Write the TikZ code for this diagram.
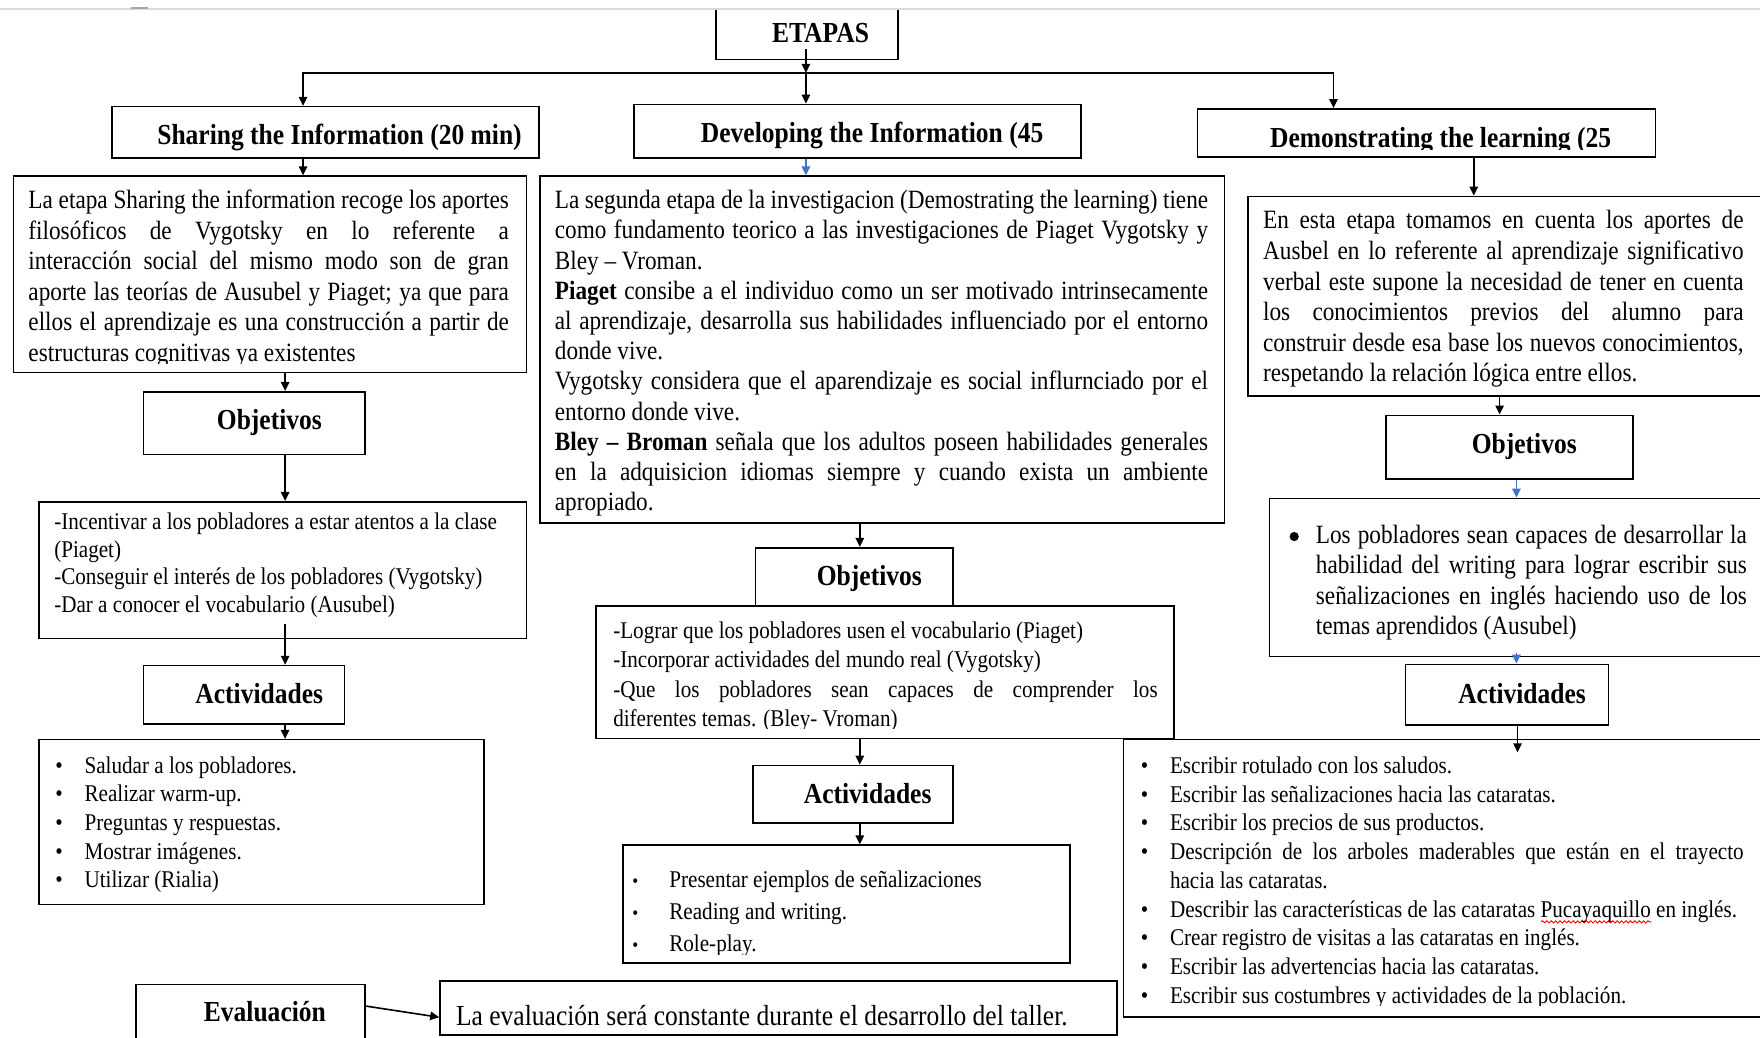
\documentclass[tikz,border=0pt]{standalone}
\usepackage{fontspec}
\setmainfont{Liberation Serif}[FakeStretch=0.88]
\usetikzlibrary{arrows.meta,fit,calc,decorations.pathmorphing}
\definecolor{blueA}{RGB}{68,114,196}
\newcommand\jl[1]{{\spaceskip=0pt\xspaceskip=0pt\makebox[\linewidth][s]{#1}}}
\newcommand\bl{\makebox[14.6pt][l]{\textbullet}}
\newcommand\bld{\makebox[18.5pt][l]{\scalebox{0.8}{\textbullet}}}
\newcommand\bx[5]{\node[box, fit={(#2,#3) (#4,#5)}] (#1) {};}
\newcommand\wavy[1]{\setbox0\hbox{#1}\rlap{\tikz[baseline=0pt,x=1pt,y=1pt]\draw[red,line width=0.45pt,decorate,decoration={snake,amplitude=0.55pt,segment length=2.2pt}] (0pt,-2.4pt) -- (\the\wd0,-2.4pt);}#1}
\begin{document}
\begin{tikzpicture}[x=0.5612pt,y=-0.5612pt,
  box/.style={draw, line width=0.8pt, inner sep=0pt},
  arr/.style={line width=0.8pt, -{Triangle[length=4.5pt,width=4.2pt]}},
  barr/.style={arr, draw=blueA},
  hdr/.style={font=\fontsize{14.5}{16.7}\selectfont\bfseries, inner sep=0pt, anchor=base},
  body/.style={font=\fontsize{13.2}{15.26}\selectfont, inner sep=0pt, anchor=base west, align=justify},
  small/.style={inner sep=0pt, anchor=base west, align=justify}]
\useasboundingbox (0,0) rectangle (1568,924);
\fill[white] (0,0) rectangle (1568,924);
% top edge of page
\begin{scope}
\clip (0,8.6) rectangle (1568,924);
\bx{etapas}{638}{-5}{800}{53}
\end{scope}
\draw[gray!30, line width=0.8pt] (0,8) -- (1568,8);
\draw[gray!70, line width=1.2pt] (117,7) -- (132,7);
% boxes
\bx{shar}{100}{95}{480}{141}
\bx{dev}{565}{93}{963}{141}
\bx{dem}{1067}{97}{1475}{140}
\bx{s1}{12}{157}{469}{332}
\bx{objS}{128}{349}{325}{405}
\bx{s2}{35}{447}{469}{569}
\bx{actS}{128}{593}{307}{645}
\bx{s3}{35}{659}{431}{806}
\bx{d1}{481}{157}{1091}{466}
\bx{objD}{673}{488}{849}{540}
\bx{d2}{531}{540}{1046}{658}
\bx{actD}{671}{682}{849}{733}
\bx{d3}{555}{753}{953}{858}
\bx{r1}{1112}{175}{1580}{353}
\bx{objR}{1235}{370}{1455}{427}
\bx{r2}{1131}{444}{1580}{585}
\bx{actR}{1252}{592}{1433}{646}
\bx{r3}{1001}{659}{1580}{906}
\bx{eval}{121}{877}{325}{935}
\bx{evalB}{392}{874}{995}{922}
% headers
\node[hdr] (etapasT) at (731,38) {ETAPAS};
\node[hdr] (sharT) at (302.5,129) {Sharing the Information (20 min)};
\node[hdr] (devT) at (777,127) {Developing the Information (45};
\begin{scope}
\clip (1067,97) rectangle (1475,133);
\node[hdr] (demT) at (1283.5,131) {Demonstrating the learning (25};
\end{scope}
\node[hdr] (objST) at (240,383) {Objetivos};
\node[hdr] (actST) at (231,627) {Actividades};
\node[hdr] (objDT) at (774.5,522) {Objetivos};
\node[hdr] (actDT) at (773,716) {Actividades};
\node[hdr] (objRT) at (1358,404) {Objetivos};
\node[hdr] (actRT) at (1356,627) {Actividades};
\node[hdr] (evalT) at (236,910) {Evaluación};
% texts
\begin{scope}
\clip (12,157) rectangle (469,324);
\node[body, text width=240.2pt] (s1t) at (25,186) {\jl{La etapa Sharing the information recoge los aportes}\\
\jl{filosóficos de Vygotsky en lo referente a}\\
\jl{interacción social del mismo modo son de gran}\\
\jl{aporte las teorías de Ausubel y Piaget; ya que para}\\
\jl{ellos el aprendizaje es una construcción a partir de}\\
estructuras cognitivas ya existentes};
\end{scope}
\node[small, font=\fontsize{12}{13.8}\selectfont, text width=270pt] (s2t) at (48,472) {-Incentivar a los pobladores a estar atentos a la clase\\
(Piaget)\\
-Conseguir el interés de los pobladores (Vygotsky)\\
-Dar a conocer el vocabulario (Ausubel)};
\node[small, font=\fontsize{12}{14.3}\selectfont, text width=230pt] (s3t) at (49,689) {\bl Saludar a los pobladores.\\
\bl Realizar warm-up.\\
\bl Preguntas y respuestas.\\
\bl Mostrar imágenes.\\
\bl Utilizar (Rialia)};
\node[body, font=\fontsize{13.2}{15.1}\selectfont, text width=326.6pt] (d1t) at (494,186) {\jl{La segunda etapa de la investigacion (Demostrating the learning) tiene}\\
\jl{como fundamento teorico a las investigaciones de Piaget Vygotsky y}\\
Bley – Vroman.\\
\jl{\textbf{Piaget} consibe a el individuo como un ser motivado intrinsecamente}\\
\jl{al aprendizaje, desarrolla sus habilidades influenciado por el entorno}\\
donde vive.\\
\jl{Vygotsky considera que el aparendizaje es social influrnciado por el}\\
entorno donde vive.\\
\jl{\textbf{Bley – Broman} señala que los adultos poseen habilidades generales}\\
\jl{en la adquisicion idiomas siempre y cuando exista un ambiente}\\
apropiado.};
\begin{scope}
\clip (531,540) rectangle (1046,649);
\node[small, font=\fontsize{12}{14.6}\selectfont, text width=272.2pt] (d2t) at (546,569) {-Lograr que los pobladores usen el vocabulario (Piaget)\\
-Incorporar actividades del mundo real (Vygotsky)\\
\jl{-Que los pobladores sean capaces de comprender los}\\
diferentes temas. (Bley- Vroman)};
\end{scope}
\begin{scope}
\clip (555,753) rectangle (953,850);
\node[small, font=\fontsize{12}{16}\selectfont, text width=220pt] (d3t) at (563,791) {\bld Presentar ejemplos de señalizaciones\\
\bld Reading and writing.\\
\bld Role-play.};
\end{scope}
\node[body, text width=240.2pt] (r1t) at (1125,204) {\jl{En esta etapa tomamos en cuenta los aportes de}\\
\jl{Ausbel en lo referente al aprendizaje significativo}\\
\jl{verbal este supone la necesidad de tener en cuenta}\\
\jl{los conocimientos previos del alumno para}\\
\jl{construir desde esa base los nuevos conocimientos,}\\
respetando la relación lógica entre ellos.};
\node[circle, fill=black, inner sep=0pt, minimum size=4.6pt] (r2b) at (1153,478) {};
\node[body, text width=215.5pt] (r2t) at (1172,484) {\jl{Los pobladores sean capaces de desarrollar la}\\
\jl{habilidad del writing para lograr escribir sus}\\
\jl{señalizaciones en inglés haciendo uso de los}\\
temas aprendidos (Ausubel)};
\begin{scope}
\clip (1001,659) rectangle (1568,896);
\node[small, font=\fontsize{12}{14.37}\selectfont, text width=301.4pt] (r3t) at (1016,689) {\bl Escribir rotulado con los saludos.\\
\bl Escribir las señalizaciones hacia las cataratas.\\
\bl Escribir los precios de sus productos.\\
\bl\makebox[\dimexpr\linewidth-14.6pt\relax][s]{\spaceskip=0pt Descripción de los arboles maderables que están en el trayecto}\\
\hspace*{14.6pt}hacia las cataratas.\\
\mbox{\bl Describir las características de las cataratas \wavy{Pucayaquillo} en inglés.}\\
\bl Crear registro de visitas a las cataratas en inglés.\\
\bl Escribir las advertencias hacia las cataratas.\\
\bl Escribir sus costumbres y actividades de la población.};
\end{scope}
\node[small, font=\fontsize{14.5}{16.7}\selectfont] (evalBt) at (406,914) {La evaluación será constante durante el desarrollo del taller.};
% connectors
\coordinate (jn) at (718,65);
\draw[arr] ($(etapas.south -| 718,0)+(0,-10)$) -- (jn);
\draw[arr] (jn) -- (dev.north -| 718,0);
\draw[arr] (jn) -| (shar.north -| 270,0);
\draw[arr] (jn) -| (dem.north -| 1188,0);
\draw[arr] (shar.south -| 270,0) -- (s1.north -| 270,0);
\draw[barr] (dev.south -| 718,0) -- (d1.north -| 718,0);
\draw[arr] (dem.south -| 1313,0) -- (r1.north -| 1313,0);
\draw[arr] (s1.south -| 254,0) -- (objS.north -| 254,0);
\draw[arr] (objS.south -| 254,0) -- (s2.north -| 254,0);
\draw[arr] ($(s2.south -| 254,0)+(0,-14)$) -- (actS.north -| 254,0);
\draw[arr] (actS.south -| 254,0) -- (s3.north -| 254,0);
\draw[arr] (d1.south -| 766,0) -- (objD.north -| 766,0);
\draw[arr] (d2.south -| 766,0) -- (actD.north -| 766,0);
\draw[arr] (actD.south -| 766,0) -- (d3.north -| 766,0);
\draw[arr] (r1.south -| 1336,0) -- (objR.north -| 1336,0);
\draw[barr] (objR.south -| 1351,0) -- (r2.north -| 1351,0);
\draw[barr] ($(r2.south -| 1351,0)+(0,-4)$) -- (actR.north -| 1351,0);
\draw[arr] (actR.south -| 1352,0) -- ($(r3.north -| 1352,0)+(0,12)$);
\draw[arr] ($(eval.north east)+(0,20)$) -- ($(evalB.north west)+(0,33)$);
\end{tikzpicture}
\end{document}
